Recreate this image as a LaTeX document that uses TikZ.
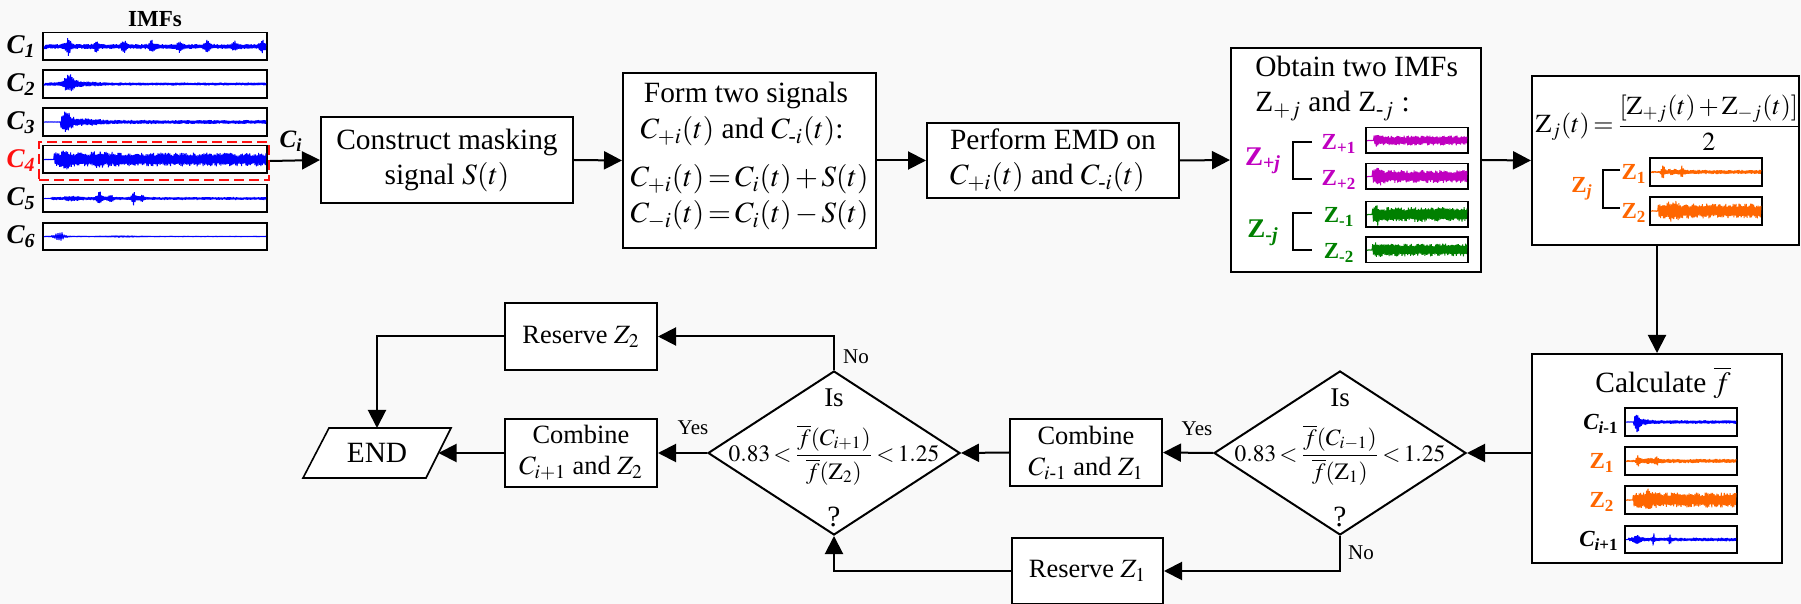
\documentclass[tikz,border=0pt]{standalone}
\usepackage{amsmath}
\usepackage{mathptmx}
\usepackage{fontspec}
\setmainfont{Liberation Serif}
\usetikzlibrary{arrows.meta,shapes.geometric,calc}

\definecolor{bg}{HTML}{F9F9F9}
\definecolor{sigblue}{HTML}{0000FF}
\definecolor{sigmag}{HTML}{C000C0}
\definecolor{siggreen}{HTML}{008000}
\definecolor{sigorange}{HTML}{FF6600}
\definecolor{selred}{HTML}{FF1010}

\newcommand\fsz[2]{\fontsize{#1}{#2}\selectfont}
\newcommand\tightmath{\thickmuskip=2.5mu\medmuskip=2mu\relax}
% x0, x1, yc, colour, envelope function, steps
\newcommand\wavesig[6]{%
  \draw[#4, line width=0.5pt, line join=bevel]
    (#1,#3) \foreach \wi in {1,...,#6}{ -- ({#1+(#2-#1)*(\wi/#6)},{#3+(2*mod(\wi,2)-1)*(0.55+0.45*rnd)*#5(\wi/#6)}) };}

\tikzset{
  box/.style={draw, line width=1pt, fill=white, inner sep=2pt, font=\fsz{14.7}{17.5}, align=center},
  sbox/.style={draw, line width=1pt, fill=white, inner sep=2pt, font=\fsz{13.2}{15.5}, align=center},
  arr/.style={line width=1pt, -{Triangle[length=9pt,width=9pt]}},
  brk/.style={line width=1pt},
  dia/.style={draw, diamond, line width=1pt, fill=white, minimum width=126pt, minimum height=82pt, inner sep=0pt},
  sigbox/.style={draw, line width=0.75pt, fill=white, inner sep=0pt},
  txt/.style={inner sep=0pt, font=\fsz{14.7}{17.5}},
  yn/.style={inner sep=0pt, font=\fsz{10.5}{12}},
  imflab/.style={inner sep=0pt, font=\fsz{13.5}{15}\bfseries\itshape, anchor=east},
  zlab/.style={inner sep=0pt, font=\fsz{11.5}{13}\bfseries},
}

\begin{document}
\begin{tikzpicture}[x=0.5pt,y=-0.5pt,
  declare function={
    bump(\u,\c,\w)=1/(1+min(((\u-\c)/\w)*((\u-\c)/\w),100))^2;
    enva(\u)=2.4+4.5*bump(frac(\u*8+0.62),0.5,0.12)+3*bump(\u,0.11,0.015);
    envb(\u)=1.4+8.5*bump(\u,0.115,0.035)+1*bump(\u,0.2,0.08);
    envc(\u)=0.3+(\u>0.075)*(1.6+9.5*bump(\u,0.1,0.035)+2*bump(\u,0.2,0.08));
    envd(\u)=0.3+(\u>0.045)*(6.5+4*bump(\u,0.1,0.03)+1.5*bump(\u,0.25,0.1));
    enve(\u)=0.2+(\u>0.03)*(1.2+6*bump(\u,0.25,0.015)+4*bump(\u,0.3,0.012)+6*bump(\u,0.405,0.012)+3*bump(\u,0.44,0.012)+2*bump(\u,0.13,0.04));
    envf(\u)=0.35+6*bump(\u,0.07,0.025)+0.8*bump(\u,0.35,0.1);
    envpa(\u)=0.4+(\u>0.07)*(4.5+3*bump(\u,0.1,0.03));
    envpb(\u)=0.4+(\u>0.05)*(6+3*bump(\u,0.12,0.05));
    envma(\u)=0.4+(\u>0.05)*(7+5*bump(\u,0.1,0.02));
    envmb(\u)=0.4+(\u>0.05)*(6+3*bump(\u,0.1,0.03));
    envza(\u)=0.8+(\u>0.08)*(1.2+7*bump(\u,0.11,0.015)+4*bump(\u,0.28,0.015)+1.2*bump(\u,0.2,0.1));
    envzb(\u)=0.5+(\u>0.06)*(7+4*bump(\u,0.2,0.06));
    envcm(\u)=0.3+(\u>0.07)*(1.5+10.5*bump(\u,0.1,0.03)+1.5*bump(\u,0.18,0.06));
    envcp(\u)=0.2+(\u>0.02)*(1.5+5*bump(\u,0.25,0.015)+6*bump(\u,0.4,0.012)+3*bump(\u,0.1,0.05));
  }]
\pgfmathsetseed{4242}
\fill[bg] (0,0) rectangle (1801,604);
\useasboundingbox (0,0) rectangle (1801,604);

% ---------- IMF panel ----------
\node[inner sep=0pt, font=\fsz{11.5}{13}\bfseries] (imft) at (155,19) {IMFs};
\node[sigbox, minimum width=112pt, minimum height=13.75pt] (c1) at (155,46.5) {};
\wavesig{44}{266}{46.5}{sigblue}{enva}{300}
\node[sigbox, minimum width=112pt, minimum height=14pt] (c2) at (155,84) {};
\wavesig{44}{266}{84}{sigblue}{envb}{300}
\node[sigbox, minimum width=112pt, minimum height=14pt] (c3) at (155,122) {};
\wavesig{44}{266}{122}{sigblue}{envc}{300}
\node[sigbox, minimum width=112pt, minimum height=13.75pt] (c4) at (155,159.5) {};
\wavesig{44}{266}{159.5}{sigblue}{envd}{300}
\node[sigbox, minimum width=112pt, minimum height=13.75pt] (c5) at (155,198.5) {};
\wavesig{44}{266}{198.5}{sigblue}{enve}{300}
\node[sigbox, minimum width=112pt, minimum height=13.5pt] (c6) at (155,236.5) {};
\wavesig{44}{266}{236.5}{sigblue}{envf}{222}
\node[imflab] (lc1) at (36,47) {C\textsubscript{1}};
\node[imflab] (lc2) at (36,85) {C\textsubscript{2}};
\node[imflab] (lc3) at (36,123) {C\textsubscript{3}};
\node[imflab, text=selred] (lc4) at (36,161) {C\textsubscript{4}};
\node[imflab] (lc5) at (36,199) {C\textsubscript{5}};
\node[imflab] (lc6) at (36,237) {C\textsubscript{6}};
\node[draw=selred, line width=1pt, dash pattern=on 5pt off 2.5pt, minimum width=115pt, minimum height=19pt, inner sep=0pt] (c4sel) at (154,161) {};

% ---------- top row ----------
\node[box, minimum width=126pt, minimum height=43pt] (cms) at (447,160) {Construct masking\\signal $S(t)$};
\node[box, minimum width=126.5pt, minimum height=87.5pt] (form) at (749.5,160.5) {};
\node[txt, anchor=base] (form1) at (746,103) {Form two signals};
\node[txt, anchor=base] (form2) at (742,139) {$C_{+i}(t)$ and $C_{\text{-}i}(t)$:};
\node[txt, font=\fsz{14.7}{17}\tightmath, anchor=base] (form3) at (749.5,187) {$C_{+i}(t)=C_i(t)+S(t)$};
\node[txt, font=\fsz{14.7}{17}\tightmath, anchor=base] (form4) at (749.5,223) {$C_{-i}(t)=C_i(t)-S(t)$};
\node[box, minimum width=126pt, minimum height=37.5pt, align=left] (emd) at (1053,160.5) {Perform EMD on\\ $C_{+i}(t)$ and $C_{\text{-}i}(t)$};

\node[box, minimum width=125pt, minimum height=112pt] (obt) at (1356,160) {};
\node[txt, anchor=base west] (obt1) at (1255,77) {Obtain two IMFs};
\node[txt, anchor=base west] (obt2) at (1255,112) {Z$_{+j}$ and Z$_{\text{-}j}$ :};
\node[sigbox, minimum width=51pt, minimum height=12.75pt] (zp1) at (1417,140.5) {};
\wavesig{1367}{1467}{140.5}{sigmag}{envpa}{140}
\node[sigbox, minimum width=51pt, minimum height=12.75pt] (zp2) at (1417,176.5) {};
\wavesig{1367}{1467}{176.5}{sigmag}{envpb}{140}
\node[sigbox, minimum width=51pt, minimum height=12.75pt] (zm1) at (1417,214.5) {};
\wavesig{1367}{1467}{214.5}{siggreen}{envma}{140}
\node[sigbox, minimum width=51pt, minimum height=12.75pt] (zm2) at (1417,250) {};
\wavesig{1367}{1467}{250}{siggreen}{envmb}{140}
\node[zlab, text=sigmag] (lzp1) at (1339,144) {Z\textsubscript{+1}};
\node[zlab, text=sigmag] (lzp2) at (1339,180) {Z\textsubscript{+2}};
\node[zlab, text=siggreen] (lzm1) at (1339,217) {Z\textsubscript{-1}};
\node[zlab, text=siggreen] (lzm2) at (1339,253) {Z\textsubscript{-2}};
\node[zlab, font=\fsz{13.5}{15}\bfseries, text=sigmag] (lzpj) at (1263,161) {Z\textsubscript{+\itshape j}};
\node[zlab, font=\fsz{13.5}{15}\bfseries, text=siggreen] (lzmj) at (1263,233) {Z\textsubscript{-\itshape j}};
\draw[brk] (1312,142) -- (1293,142) -- (1293,179) -- (1312,179);
\draw[brk] (1312,213) -- (1293,213) -- (1293,250) -- (1312,250);

\node[box, minimum width=133.5pt, minimum height=84.5pt] (zj) at (1665.5,160.5) {};
\node[txt, font=\fsz{13}{15}\tightmath] (zjf) at (1668,123) {$\mathrm{Z}_j(t)=\dfrac{[\mathrm{Z}_{+j}(t)+\mathrm{Z}_{-j}(t)]}{2}$};
\node[sigbox, minimum width=56pt, minimum height=14pt] (zj1) at (1706,172) {};
\wavesig{1651}{1761}{172}{sigorange}{envza}{150}
\node[sigbox, minimum width=56pt, minimum height=14pt] (zj2) at (1706,211) {};
\wavesig{1651}{1761}{211}{sigorange}{envzb}{150}
\node[zlab, text=sigorange] (lzj1) at (1634,174) {Z\textsubscript{1}};
\node[zlab, text=sigorange] (lzj2) at (1634,213) {Z\textsubscript{2}};
\node[zlab, text=sigorange] (lzjj) at (1582,189) {Z\textsubscript{\itshape j}};
\draw[brk] (1620,170) -- (1603,170) -- (1603,208) -- (1620,208);

% ---------- calculate ----------
\node[box, minimum width=125pt, minimum height=104.5pt] (calc) at (1657,458.5) {};
\node[txt] (calct) at (1663,383) {Calculate $\overline{f}$};
\node[sigbox, minimum width=56pt, minimum height=14pt] (k1) at (1681,422) {};
\wavesig{1626}{1736}{422}{sigblue}{envcm}{150}
\node[sigbox, minimum width=56pt, minimum height=14pt] (k2) at (1681,461) {};
\wavesig{1626}{1736}{461}{sigorange}{envza}{150}
\node[sigbox, minimum width=56pt, minimum height=14pt] (k3) at (1681,500) {};
\wavesig{1626}{1736}{500}{sigorange}{envzb}{150}
\node[sigbox, minimum width=56pt, minimum height=13.5pt] (k4) at (1681,539.5) {};
\wavesig{1626}{1736}{539.5}{sigblue}{envcp}{150}
\node[zlab, font=\fsz{11.5}{13}\bfseries\itshape, anchor=east] (lk1) at (1619,424) {C\textsubscript{i\upshape -1}};
\node[zlab, text=sigorange] (lk2) at (1602,463) {Z\textsubscript{1}};
\node[zlab, text=sigorange] (lk3) at (1602,502) {Z\textsubscript{2}};
\node[zlab, font=\fsz{11.5}{13}\bfseries\itshape, anchor=east] (lk4) at (1619,541) {C\textsubscript{i\upshape +1}};

% ---------- decisions ----------
\node[dia] (dia1) at (1340,453) {};
\node[txt, font=\fsz{13.5}{16}] (dia1a) at (1340,398) {Is};
\node[txt, font=\fsz{11.7}{14}\tightmath] (dia1b) at (1340,455) {$0.83<\dfrac{\overline{f}(C_{i-1})}{\overline{f}(\mathrm{Z}_1)}<1.25$};
\node[txt] (dia1c) at (1340,517) {?};

\node[dia] (dia2) at (834,453) {};
\node[txt, font=\fsz{13.5}{16}] (dia2a) at (834,398) {Is};
\node[txt, font=\fsz{11.7}{14}\tightmath] (dia2b) at (834,455) {$0.83<\dfrac{\overline{f}(C_{i+1})}{\overline{f}(\mathrm{Z}_2)}<1.25$};
\node[txt] (dia2c) at (834,517) {?};

\node[sbox, minimum width=76pt, minimum height=33.5pt] (comb1) at (1086,452.5) {Combine\\ $C_{i\text{-}1}$ and $Z_1$};
\node[sbox, minimum width=75.5pt, minimum height=33pt] (res1) at (1087.5,571) {Reserve $Z_1$};
\node[sbox, minimum width=76pt, minimum height=34pt] (comb2) at (581,453) {Combine\\ $C_{i+1}$ and $Z_2$};
\node[sbox, minimum width=76pt, minimum height=33.5pt] (res2) at (581,336.5) {Reserve $Z_2$};

% END parallelogram
\draw[line width=0.8pt, fill=white] (303,478) -- (426,478) -- (451,428) -- (329,428) -- cycle;
\node[txt] (endn) at (377,453) {END};
\coordinate (endtop) at (377,428);
\coordinate (endright) at (438.5,453);

% ---------- connectors ----------
\draw[arr] (c4sel.east) -- (cms.west);
\node[inner sep=0pt, font=\fsz{12.5}{14}\bfseries\itshape] (cil) at (291,141) {C\textsubscript{i}};
\draw[arr] (cms.east) -- (form.west);
\draw[arr] (form.east) -- (emd.west);
\draw[arr] (emd.east) -- (obt.west);
\draw[arr] (obt.east) -- (zj.west);
\draw[arr] (zj.south -| calc.north) -- (calc.north);
\draw[arr] (dia1.east -| calc.west) -- (dia1.east);
\draw[arr] (dia1.west) -- (comb1.east);
\node[yn] (y1) at (1197,429) {Yes};
\draw[arr] (dia1.south) |- (res1.east);
\node[yn] (n1) at (1361,553) {No};
\draw[arr] (comb1.west) -- (dia2.east);
\draw[arr] (res1.west) -| (dia2.south);
\draw[arr] (dia2.west) -- (comb2.east);
\node[yn] (y2) at (693,428) {Yes};
\draw[arr] (dia2.north) |- (res2.east);
\node[yn] (n2) at (856,357) {No};
\draw[arr] (comb2.west) -- (endright);
\draw[arr] (res2.west) -| (endtop);
\end{tikzpicture}
\end{document}
